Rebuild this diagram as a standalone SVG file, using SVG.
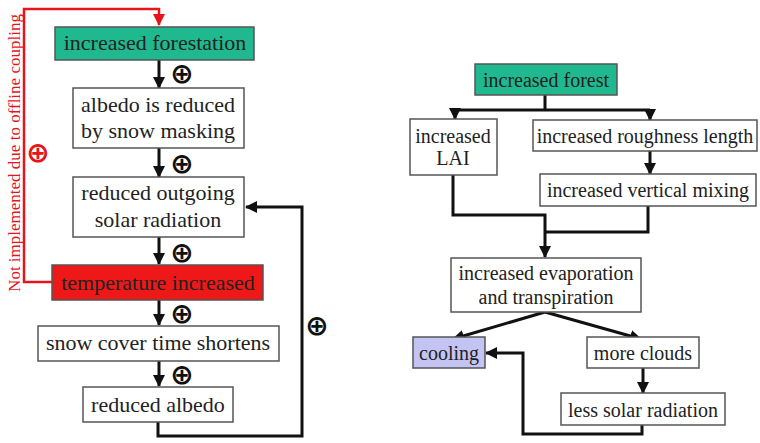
<svg xmlns="http://www.w3.org/2000/svg" width="760" height="443" viewBox="0 0 760 443">
<style>
.box{fill:#fff;stroke:#555;stroke-width:1.5}
.t{font-family:'Liberation Serif','DejaVu Serif',serif;fill:#222;text-anchor:middle}
.l{font-size:22px}
.r{font-size:20px}
.c{fill:none;stroke:#111;stroke-width:3}
.red{fill:none;stroke:#e8141c;stroke-width:2.5}
.p{font-family:'DejaVu Sans',sans-serif;font-size:28px;font-weight:bold;text-anchor:middle;fill:#111}
</style>
<defs>
<marker id="ah" markerUnits="userSpaceOnUse" markerWidth="12" markerHeight="12" viewBox="0 0 12 12" refX="11" refY="6" orient="auto">
<path d="M0,0 L12,6 L0,12 Z" fill="#111"/>
</marker>
<marker id="ahr" markerUnits="userSpaceOnUse" markerWidth="12" markerHeight="12" viewBox="0 0 12 12" refX="11" refY="6" orient="auto">
<path d="M0,0 L12,6 L0,12 Z" fill="#e8141c"/>
</marker>
</defs>
<rect width="760" height="443" fill="#fff"/>
<g id="connectors">
<path class="red" d="M52,282 H24 V9 H159 V25" marker-end="url(#ahr)"/>
<path class="c" d="M159,60 V88" marker-end="url(#ah)"/>
<path class="c" d="M159,148 V177" marker-end="url(#ah)"/>
<path class="c" d="M159,237 V264" marker-end="url(#ah)"/>
<path class="c" d="M159,300 V325" marker-end="url(#ah)"/>
<path class="c" d="M159,361 V386" marker-end="url(#ah)"/>
<path class="c" d="M158,422 V436 H302 V207 H246" marker-end="url(#ah)"/>
<path class="c" d="M545,95 V110 M455,110 H650"/>
<path class="c" d="M455,110 V119" marker-end="url(#ah)"/>
<path class="c" d="M650,110 V120" marker-end="url(#ah)"/>
<path class="c" d="M650,151 V174" marker-end="url(#ah)"/>
<path class="c" d="M453,175 V215 H545 V257" marker-end="url(#ah)"/>
<path class="c" d="M648,206 V232 H545"/>
<path class="c" d="M545,312 L453,339" marker-end="url(#ah)"/>
<path class="c" d="M545,312 L641,339" marker-end="url(#ah)"/>
<path class="c" d="M643,368 V393" marker-end="url(#ah)"/>
<path class="c" d="M642,425 V434 H523 V353 H486" marker-end="url(#ah)"/>
<text class="p" x="182" y="83">⊕</text>
<text class="p" x="182" y="173">⊕</text>
<text class="p" x="182" y="262">⊕</text>
<text class="p" x="182" y="323">⊕</text>
<text class="p" x="182" y="384">⊕</text>
<text class="p" x="317" y="335">⊕</text>
<text class="p" x="38" y="162" style="fill:#e8141c">⊕</text>
<text class="t" transform="translate(20,153) rotate(-90)" style="font-size:17px;fill:#e8141c">Not implemented due to offline coupling</text>
</g>
<g id="n1"><rect x="55" y="27" width="199" height="33" fill="#20b98f" stroke="#555" stroke-width="1.5"/><text class="t l" x="155" y="50">increased forestation</text></g>
<g id="n2"><rect class="box" x="73" y="88" width="171" height="60"/><text class="t l" x="158" y="112">albedo is reduced</text><text class="t l" x="158" y="138">by snow masking</text></g>
<g id="n3"><rect class="box" x="73" y="177" width="171" height="60"/><text class="t l" x="158" y="200">reduced outgoing</text><text class="t l" x="158" y="227">solar radiation</text></g>
<g id="n4"><rect x="52" y="265" width="211" height="35" fill="#ee1818" stroke="#555" stroke-width="1.5"/><text class="t l" x="158" y="290">temperature increased</text></g>
<g id="n5"><rect class="box" x="38" y="326" width="241" height="35"/><text class="t l" x="158" y="350">snow cover time shortens</text></g>
<g id="n6"><rect class="box" x="83" y="387" width="150" height="35"/><text class="t l" x="158" y="412">reduced albedo</text></g>
<g id="m1"><rect x="475" y="64" width="142" height="31" fill="#20b98f" stroke="#555" stroke-width="1.5"/><text class="t r" x="546" y="87">increased forest</text></g>
<g id="m2"><rect class="box" x="410" y="119" width="87" height="56"/><text class="t r" x="453" y="143">increased</text><text class="t r" x="453" y="165">LAI</text></g>
<g id="m3"><rect class="box" x="533" y="120" width="224" height="31"/><text class="t r" x="645" y="143">increased roughness length</text></g>
<g id="m4"><rect class="box" x="540" y="174" width="216" height="32"/><text class="t r" x="648" y="197">increased vertical mixing</text></g>
<g id="m5"><rect class="box" x="451" y="258" width="190" height="54"/><text class="t r" x="546" y="280">increased evaporation</text><text class="t r" x="546" y="304">and transpiration</text></g>
<g id="m6"><rect x="413" y="337" width="72" height="31" fill="#c4c4f4" stroke="#555" stroke-width="1.5"/><text class="t r" x="449" y="360">cooling</text></g>
<g id="m7"><rect class="box" x="587" y="337" width="112" height="31"/><text class="t r" x="643" y="360">more clouds</text></g>
<g id="m8"><rect class="box" x="561" y="393" width="164" height="32"/><text class="t r" x="643" y="417">less solar radiation</text></g>
</svg>
